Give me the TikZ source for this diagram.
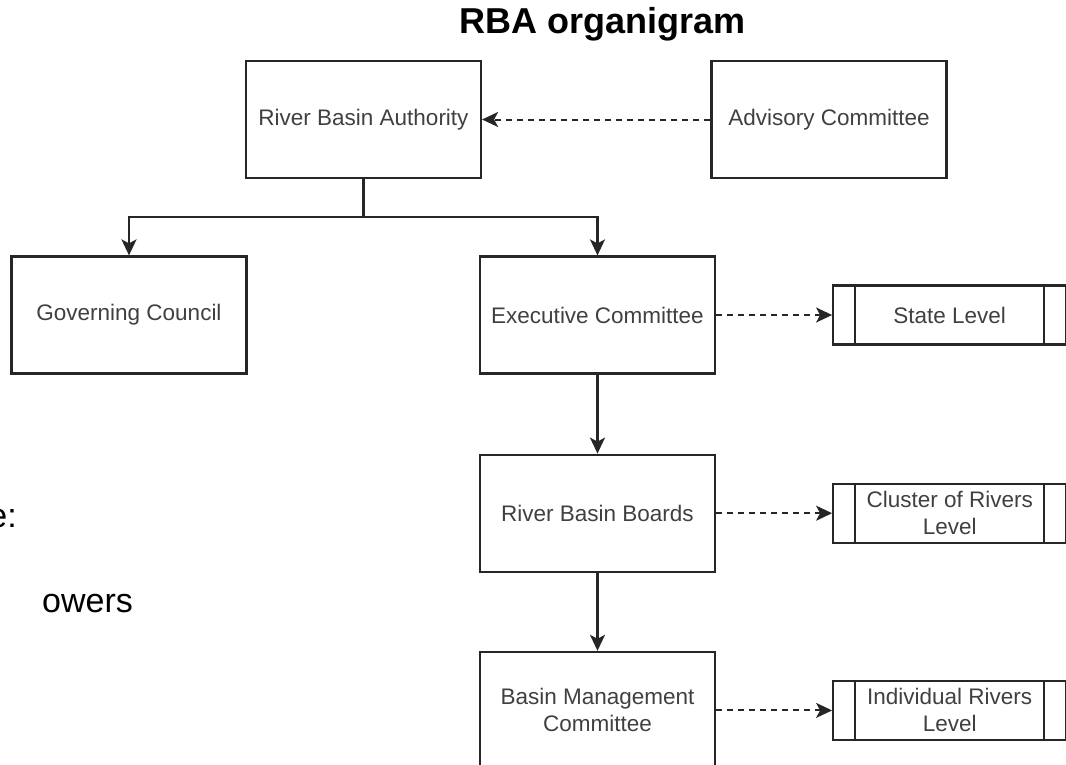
\documentclass[tikz,border=0pt]{standalone}
\usepackage{fontspec}
\setmainfont{Liberation Sans}
\usetikzlibrary{positioning, arrows.meta}
\tikzset{
  box/.style={draw=black!85, line width=2.2pt, minimum width=235pt, minimum height=117pt,
              align=center, text=black!75, font=\fontsize{22.5}{27}\selectfont},
  lvl/.style={box, minimum width=233pt, minimum height=59pt},
  link/.style={-{Stealth[length=16pt, width=15pt, inset=4pt]}, line width=2.2pt, draw=black!85},
  weak/.style={link, line width=2pt, dash pattern=on 6pt off 5pt},
  big/.style={font=\fontsize{34}{40}\selectfont, inner sep=0pt}
}

\begin{document}
\begin{tikzpicture}[x=1pt, y=1pt]
  \useasboundingbox (0,0) rectangle (1066,-764);
  \node[font=\fontsize{36}{40}\selectfont\bfseries] (title) at (603,-24) {RBA organigram};
  \node[box] (rba) at (363.5,-119.5) {River Basin Authority};
  \node[box] (adv) at (829,-119.5) {Advisory Committee};
  \node[box] (gov) at (129,-315) {Governing Council};
  \node[box] (exe) at (597.5,-315) {Executive Committee};
  \node[box, below=79pt of exe] (rbb) {River Basin Boards};
  \node[box, below=78pt of rbb] (bmc) {Basin Management\\Committee};
  \node[lvl, right=116pt of exe] (st) {State Level};
  \node[lvl, right=116pt of rbb] (cl) {Cluster of Rivers\\Level};
  \node[lvl, right=116pt of bmc] (ir) {Individual Rivers\\Level};
  % side bars of the level boxes
  \foreach \n in {st, cl, ir} {
    \draw[line width=2.2pt, black!85] ([xshift=23pt]\n.north west) -- ([xshift=23pt]\n.south west);
    \draw[line width=2.2pt, black!85] ([xshift=-23pt]\n.north east) -- ([xshift=-23pt]\n.south east);
  }
  % cut-off text at the left edge
  \node[big, anchor=base east] (cut1) at (17,-527) {e:};
  \node[big, anchor=base west] (cut2) at (42,-612) {owers};
  % connectors
  \draw[line width=2.2pt, black!85] (rba.south) -- ++(0,-38) coordinate (bus);
  \draw[link] (bus) -| (gov.north);
  \draw[link] (bus) -| (exe.north);
  \draw[link] (exe) -- (rbb);
  \draw[link] (rbb) -- (bmc);
  \draw[weak] (adv) -- (rba);
  \draw[weak] (exe) -- (st);
  \draw[weak] (rbb) -- (cl);
  \draw[weak] (bmc) -- (ir);
\end{tikzpicture}
\end{document}
